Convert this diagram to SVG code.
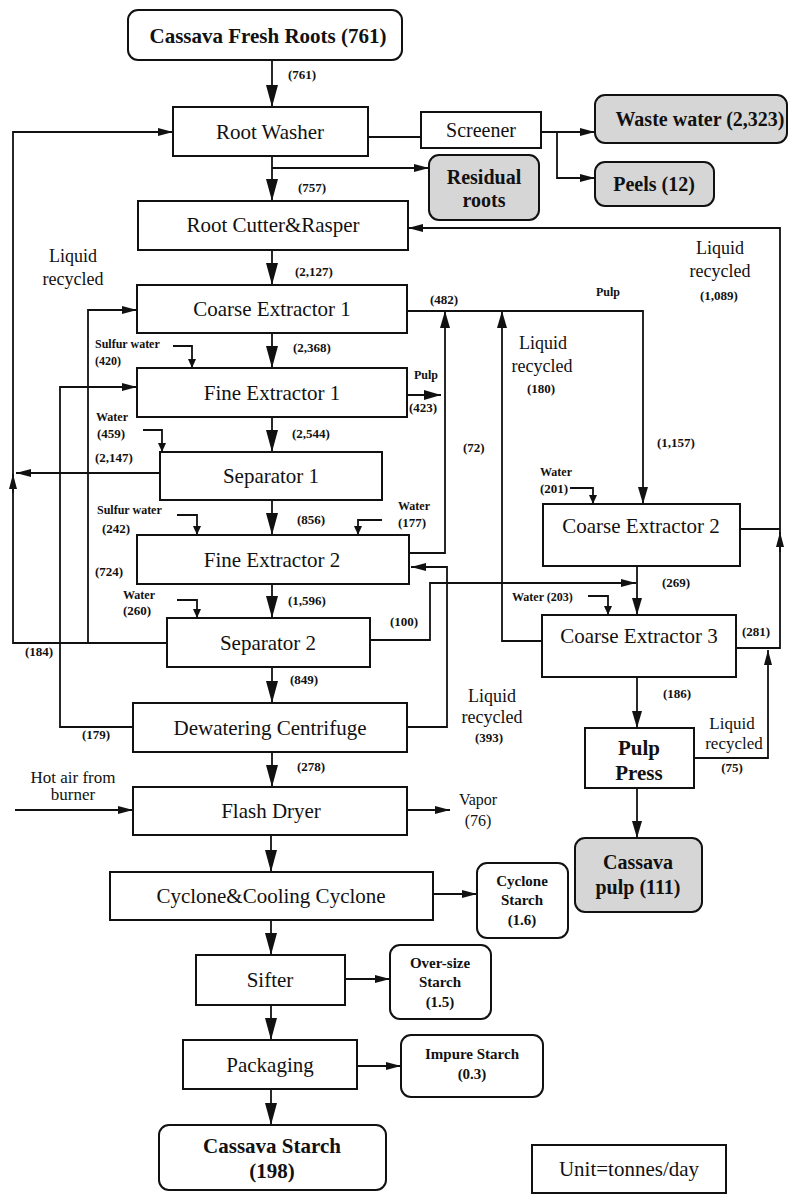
<svg xmlns="http://www.w3.org/2000/svg" width="791" height="1194" viewBox="0 0 791 1194">
<style>
.box{fill:#fff;stroke:#111;stroke-width:2}
.grey{fill:#d6d6d6;stroke:#111;stroke-width:2}
.ln{fill:none;stroke:#111;stroke-width:1.8}
.t{font-family:"Liberation Serif",serif;font-size:21px;fill:#111;text-anchor:middle}
.tb{font-family:"Liberation Serif",serif;font-size:20px;font-weight:bold;fill:#111;text-anchor:middle}
.s{font-family:"Liberation Serif",serif;font-size:13px;font-weight:bold;fill:#111}
.sm{font-family:"Liberation Serif",serif;font-size:13px;font-weight:bold;fill:#111;text-anchor:middle}
.r{font-family:"Liberation Serif",serif;font-size:18px;fill:#111;text-anchor:middle}
.ob{font-family:"Liberation Serif",serif;font-size:15px;font-weight:bold;fill:#111;text-anchor:middle}
</style>
<defs>
<marker id="big" markerUnits="userSpaceOnUse" markerWidth="22" markerHeight="12" refX="22" refY="6" orient="auto"><path d="M0,0 L22,6 L0,12 z" fill="#111"/></marker>
<marker id="med" markerUnits="userSpaceOnUse" markerWidth="17" markerHeight="10" refX="17" refY="5" orient="auto"><path d="M0,0 L17,5 L0,10 z" fill="#111"/></marker>
<marker id="sm" markerUnits="userSpaceOnUse" markerWidth="15" markerHeight="8" refX="15" refY="4" orient="auto"><path d="M0,0 L15,4 L0,8 z" fill="#111"/></marker>
<marker id="tiny" markerUnits="userSpaceOnUse" markerWidth="9" markerHeight="8" refX="9" refY="4" orient="auto"><path d="M0,0 L9,4 L0,8 z" fill="#111"/></marker>
</defs>

<g id="connectors">
<path class="ln" d="M272,60 V107" marker-end="url(#big)"/>
<path class="ln" d="M272,156 V201" marker-end="url(#big)"/>
<path class="ln" d="M272,250 V285" marker-end="url(#big)"/>
<path class="ln" d="M272,333 V368" marker-end="url(#big)"/>
<path class="ln" d="M272,417 V452" marker-end="url(#big)"/>
<path class="ln" d="M272,500 V535" marker-end="url(#big)"/>
<path class="ln" d="M272,584 V618" marker-end="url(#big)"/>
<path class="ln" d="M272,667 V703" marker-end="url(#big)"/>
<path class="ln" d="M272,752 V787" marker-end="url(#big)"/>
<path class="ln" d="M271,835 V872" marker-end="url(#big)"/>
<path class="ln" d="M271,920 V955" marker-end="url(#big)"/>
<path class="ln" d="M271,1005 V1040" marker-end="url(#big)"/>
<path class="ln" d="M271,1089 V1125" marker-end="url(#big)"/>

<path class="ln" d="M272,168 H429" marker-end="url(#sm)"/>
<path class="ln" d="M368,137 H421"/>
<path class="ln" d="M541,132 H595" marker-end="url(#sm)"/>
<path class="ln" d="M557,132 V178 H595" marker-end="url(#sm)"/>

<path class="ln" d="M167,643 H13 V132 H173" marker-end="url(#sm)"/>
<path class="ln" d="M13,493 V474" marker-end="url(#sm)"/>
<path class="ln" d="M88,643 V310 H137" marker-end="url(#sm)"/>
<path class="ln" d="M160,473 H16" marker-end="url(#sm)"/>
<path class="ln" d="M133,727 H60 V387 H137" marker-end="url(#sm)"/>

<path class="ln" d="M736,648 H780 V228 H408" marker-end="url(#sm)"/>
<path class="ln" d="M740,529 H780"/>
<path class="ln" d="M780,552 V532" marker-end="url(#sm)"/>
<path class="ln" d="M694,758 H768 V650" marker-end="url(#sm)"/>

<path class="ln" d="M407,311 H643 V504" marker-end="url(#med)"/>
<path class="ln" d="M409,553 H445 V311" marker-end="url(#med)"/>
<path class="ln" d="M407,395 H441" marker-end="url(#med)"/>
<path class="ln" d="M542,641 H502 V311" marker-end="url(#med)"/>
<path class="ln" d="M407,727 H447 V567 H411" marker-end="url(#sm)"/>
<path class="ln" d="M370,640 H430 V583 H636" marker-end="url(#sm)"/>
<path class="ln" d="M637,566 V615" marker-end="url(#med)"/>
<path class="ln" d="M637,677 V728" marker-end="url(#med)"/>
<path class="ln" d="M637,788 V838" marker-end="url(#med)"/>

<path class="ln" d="M173,346 H192 V368" marker-end="url(#tiny)"/>
<path class="ln" d="M143,430 H162 V452" marker-end="url(#tiny)"/>
<path class="ln" d="M177,515 H197 V535" marker-end="url(#tiny)"/>
<path class="ln" d="M382,520 H358 V535" marker-end="url(#tiny)"/>
<path class="ln" d="M177,600 H197 V618" marker-end="url(#tiny)"/>
<path class="ln" d="M570,488 H593 V504" marker-end="url(#tiny)"/>
<path class="ln" d="M588,596 H608 V615" marker-end="url(#tiny)"/>

<path class="ln" d="M15,810 H133" marker-end="url(#sm)"/>
<path class="ln" d="M407,810 H450" marker-end="url(#sm)"/>
<path class="ln" d="M433,894 H477" marker-end="url(#sm)"/>
<path class="ln" d="M345,979 H390" marker-end="url(#sm)"/>
<path class="ln" d="M357,1066 H401" marker-end="url(#sm)"/>
</g>

<g id="flow-labels">
<text class="s" x="288" y="79">(761)</text>
<text class="s" x="298" y="192">(757)</text>
<text class="s" x="295" y="276">(2,127)</text>
<text class="s" x="430" y="304">(482)</text>
<text class="s" x="596" y="296" style="font-size:12px">Pulp</text>
<text class="r" x="720" y="254">Liquid</text>
<text class="r" x="720" y="277">recycled</text>
<text class="sm" x="719" y="300">(1,089)</text>
<text class="r" x="73" y="262">Liquid</text>
<text class="r" x="73" y="285">recycled</text>
<text class="s" x="95" y="348" style="font-size:12px">Sulfur water</text>
<text class="s" x="95" y="365" style="font-size:12px">(420)</text>
<text class="s" x="293" y="352">(2,368)</text>
<text class="s" x="414" y="379" style="font-size:12px">Pulp</text>
<text class="s" x="409" y="412">(423)</text>
<text class="r" x="543" y="349">Liquid</text>
<text class="r" x="542" y="372">recycled</text>
<text class="sm" x="541" y="393">(180)</text>
<text class="s" x="292" y="438">(2,544)</text>
<text class="s" x="96" y="421" style="font-size:12px">Water</text>
<text class="s" x="97" y="438">(459)</text>
<text class="s" x="95" y="462">(2,147)</text>
<text class="s" x="463" y="452">(72)</text>
<text class="s" x="657" y="447">(1,157)</text>
<text class="s" x="540" y="476" style="font-size:12px">Water</text>
<text class="s" x="540" y="493">(201)</text>
<text class="s" x="97" y="514" style="font-size:12px">Sulfur water</text>
<text class="s" x="102" y="533">(242)</text>
<text class="s" x="297" y="524">(856)</text>
<text class="s" x="398" y="510" style="font-size:12px">Water</text>
<text class="s" x="398" y="527">(177)</text>
<text class="s" x="95" y="576">(724)</text>
<text class="s" x="662" y="587">(269)</text>
<text class="s" x="512" y="601" style="font-size:12px">Water (203)</text>
<text class="s" x="123" y="599" style="font-size:12px">Water</text>
<text class="s" x="123" y="615">(260)</text>
<text class="s" x="288" y="605">(1,596)</text>
<text class="s" x="390" y="626">(100)</text>
<text class="s" x="742" y="636">(281)</text>
<text class="s" x="25" y="656">(184)</text>
<text class="s" x="290" y="684">(849)</text>
<text class="s" x="663" y="698">(186)</text>
<text class="r" x="492" y="702">Liquid</text>
<text class="r" x="492" y="723">recycled</text>
<text class="sm" x="489" y="742">(393)</text>
<text class="r" x="732" y="729" style="font-size:17px">Liquid</text>
<text class="r" x="734" y="749" style="font-size:17px">recycled</text>
<text class="sm" x="732" y="772">(75)</text>
<text class="s" x="82" y="739">(179)</text>
<text class="s" x="297" y="771">(278)</text>
<text class="r" x="73" y="783" style="font-size:17px">Hot air from</text>
<text class="r" x="73" y="800" style="font-size:17px">burner</text>
<text class="r" x="478" y="805" style="font-size:16px">Vapor</text>
<text class="r" x="478" y="826" style="font-size:16px">(76)</text>
</g>

<g id="fresh-roots"><rect class="box" x="128" y="10" width="274" height="50" rx="10"/><text class="tb" x="268" y="43" style="font-size:21px">Cassava Fresh Roots (761)</text></g>
<g id="root-washer"><rect class="box" x="173" y="107" width="195" height="49"/><text class="t" x="270" y="139">Root Washer</text></g>
<g id="screener"><rect class="box" x="421" y="112" width="120" height="36"/><text class="t" x="481" y="137" style="font-size:20px">Screener</text></g>
<g id="residual-roots"><rect class="grey" x="429" y="155" width="110" height="65" rx="10"/><text class="tb" x="484" y="184">Residual</text><text class="tb" x="484" y="207">roots</text></g>
<g id="waste-water"><rect class="grey" x="595" y="95" width="192" height="48" rx="10"/><text class="tb" x="700" y="126">Waste water (2,323)</text></g>
<g id="peels"><rect class="grey" x="595" y="162" width="119" height="44" rx="10"/><text class="tb" x="654" y="191">Peels (12)</text></g>
<g id="root-cutter"><rect class="box" x="138" y="201" width="270" height="49"/><text class="t" x="273" y="232">Root Cutter&amp;Rasper</text></g>
<g id="coarse-extractor-1"><rect class="box" x="137" y="285" width="270" height="48"/><text class="t" x="272" y="316">Coarse Extractor 1</text></g>
<g id="fine-extractor-1"><rect class="box" x="137" y="368" width="270" height="49"/><text class="t" x="272" y="400">Fine Extractor 1</text></g>
<g id="separator-1"><rect class="box" x="160" y="452" width="222" height="48"/><text class="t" x="271" y="483">Separator 1</text></g>
<g id="fine-extractor-2"><rect class="box" x="137" y="535" width="272" height="49"/><text class="t" x="272" y="567">Fine Extractor 2</text></g>
<g id="separator-2"><rect class="box" x="167" y="618" width="203" height="49"/><text class="t" x="268" y="650">Separator 2</text></g>
<g id="dewatering"><rect class="box" x="133" y="703" width="274" height="49"/><text class="t" x="270" y="735">Dewatering Centrifuge</text></g>
<g id="flash-dryer"><rect class="box" x="133" y="787" width="274" height="48"/><text class="t" x="271" y="818">Flash Dryer</text></g>
<g id="cyclone"><rect class="box" x="110" y="872" width="323" height="48"/><text class="t" x="271" y="903">Cyclone&amp;Cooling Cyclone</text></g>
<g id="cyclone-starch"><rect class="box" x="477" y="863" width="91" height="75" rx="10"/><text class="ob" x="522" y="886">Cyclone</text><text class="ob" x="522" y="905">Starch</text><text class="ob" x="522" y="925">(1.6)</text></g>
<g id="sifter"><rect class="box" x="196" y="955" width="149" height="50"/><text class="t" x="270" y="987">Sifter</text></g>
<g id="oversize-starch"><rect class="box" x="390" y="945" width="101" height="74" rx="10"/><text class="ob" x="440" y="968">Over-size</text><text class="ob" x="440" y="987">Starch</text><text class="ob" x="440" y="1007">(1.5)</text></g>
<g id="packaging"><rect class="box" x="183" y="1040" width="174" height="49"/><text class="t" x="270" y="1072">Packaging</text></g>
<g id="impure-starch"><rect class="box" x="401" y="1035" width="142" height="62" rx="10"/><text class="ob" x="472" y="1059">Impure Starch</text><text class="ob" x="472" y="1079">(0.3)</text></g>
<g id="cassava-starch"><rect class="box" x="159" y="1125" width="227" height="65" rx="10"/><text class="tb" x="272" y="1153" style="font-size:21px">Cassava Starch</text><text class="tb" x="272" y="1178" style="font-size:21px">(198)</text></g>
<g id="coarse-extractor-2"><rect class="box" x="543" y="504" width="197" height="62"/><text class="t" x="641" y="533">Coarse Extractor 2</text></g>
<g id="coarse-extractor-3"><rect class="box" x="542" y="615" width="194" height="62"/><text class="t" x="639" y="643">Coarse Extractor 3</text></g>
<g id="pulp-press"><rect class="box" x="585" y="728" width="109" height="60"/><text class="tb" x="639" y="755" style="font-size:21px">Pulp</text><text class="tb" x="639" y="780" style="font-size:21px">Press</text></g>
<g id="cassava-pulp"><rect class="grey" x="575" y="838" width="127" height="74" rx="10"/><text class="tb" x="638" y="869">Cassava</text><text class="tb" x="638" y="894">pulp (111)</text></g>
<g id="unit"><rect class="box" x="532" y="1145" width="194" height="48"/><text class="t" x="629" y="1176">Unit=tonnes/day</text></g>
</svg>
